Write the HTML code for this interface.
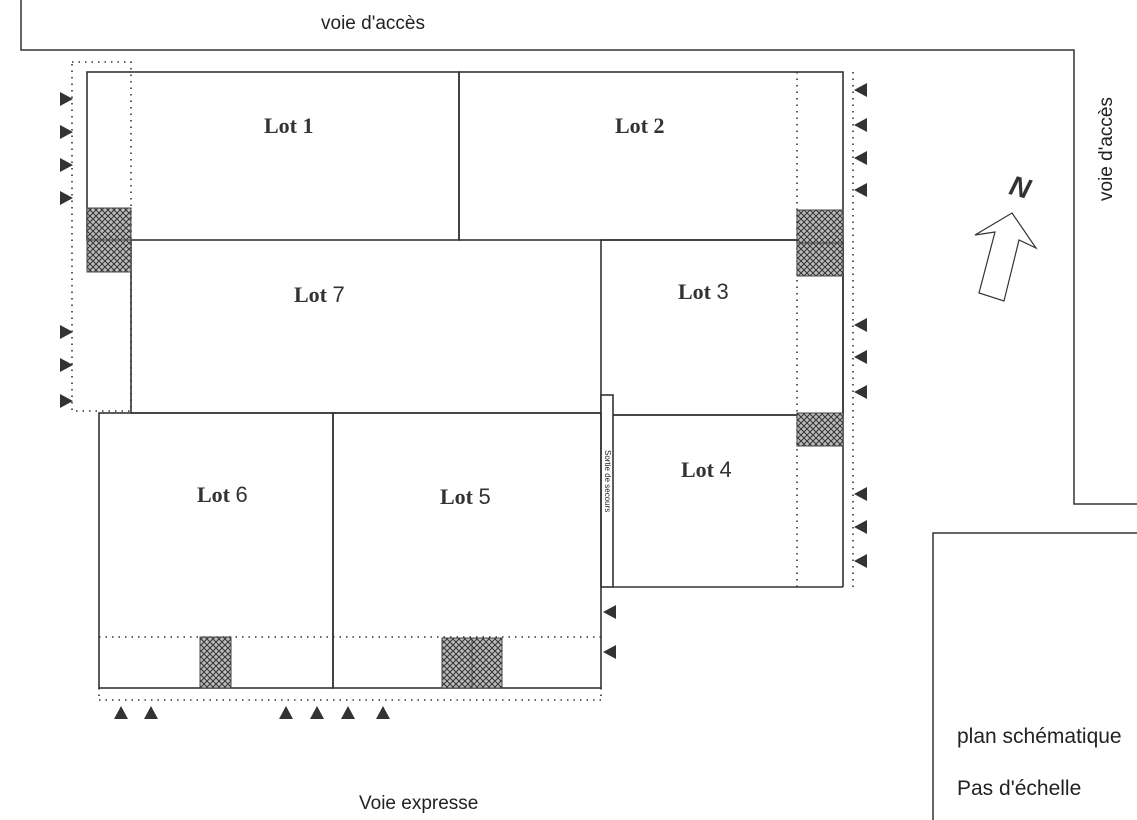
<!DOCTYPE html>
<html><head><meta charset="utf-8"><style>
html,body{margin:0;padding:0;background:#fff;}
svg{display:block;}
.h{font-family:"Liberation Sans",sans-serif;font-size:19px;fill:#222;}
.b{font-family:"Liberation Sans",sans-serif;font-size:21px;fill:#222;}
.s{font-family:"Liberation Serif",serif;font-size:22px;font-weight:bold;fill:#333;}
</style></head><body>
<svg width="1137" height="820" viewBox="0 0 1137 820" xmlns="http://www.w3.org/2000/svg">
<defs>
<pattern id="hx" width="6" height="6" patternUnits="userSpaceOnUse">
<rect width="6" height="6" fill="#bbb"/>
<path d="M0 0L6 6M6 0L0 6" stroke="#333" stroke-width="1"/>
</pattern>
</defs>
<g fill="none" stroke="#333" stroke-width="1.5">
<polyline points="21,0 21,50 1074,50 1074,504 1137,504"/>
<polyline points="933,820 933,533 1137,533"/>
</g>
<g fill="none" stroke="#333" stroke-width="1.6" stroke-dasharray="1.5 5">
<rect x="72" y="62" width="59" height="349"/>
<line x1="797" y1="72" x2="797" y2="587"/>
<line x1="853" y1="72" x2="853" y2="587"/>
<line x1="99" y1="637" x2="601" y2="637"/>
<line x1="99" y1="700" x2="601" y2="700"/>
<line x1="99" y1="688" x2="99" y2="700"/>
<line x1="601" y1="688" x2="601" y2="700"/>
</g>
<g fill="none" stroke="#333" stroke-width="1.6">
<rect x="87" y="72" width="372" height="168"/>
<rect x="459" y="72" width="384" height="168"/>
<line x1="131" y1="240" x2="131" y2="413"/>
<line x1="131" y1="413" x2="601" y2="413"/>
<rect x="601" y="240" width="242" height="175"/>
<line x1="843" y1="240" x2="843" y2="587"/>
<line x1="613" y1="415" x2="843" y2="415"/>
<line x1="613" y1="587" x2="843" y2="587"/>
<rect x="601" y="395" width="12" height="192" fill="#fff"/>
<rect x="99" y="413" width="234" height="275"/>
<rect x="333" y="413" width="268" height="275"/>
</g>
<g fill="url(#hx)" stroke="#444" stroke-width="1">
<rect x="87" y="208" width="44" height="32"/>
<rect x="87" y="240" width="44" height="32"/>
<rect x="797" y="210" width="46" height="33"/>
<rect x="797" y="243" width="46" height="33"/>
<rect x="797" y="413" width="46" height="33"/>
<rect x="200" y="637" width="31" height="51"/>
<rect x="442" y="638" width="30" height="50"/>
<rect x="472" y="638" width="30" height="50"/>
</g>
<g fill="#333">
<path d="M60 92L73 99L60 106Z"/><path d="M60 125L73 132L60 139Z"/><path d="M60 158L73 165L60 172Z"/><path d="M60 191L73 198L60 205Z"/>
<path d="M60 325L73 332L60 339Z"/><path d="M60 358L73 365L60 372Z"/><path d="M60 394L73 401L60 408Z"/>
<path d="M867 83L854 90L867 97Z"/><path d="M867 118L854 125L867 132Z"/><path d="M867 151L854 158L867 165Z"/><path d="M867 183L854 190L867 197Z"/>
<path d="M867 318L854 325L867 332Z"/><path d="M867 350L854 357L867 364Z"/><path d="M867 385L854 392L867 399Z"/>
<path d="M867 487L854 494L867 501Z"/><path d="M867 520L854 527L867 534Z"/><path d="M867 554L854 561L867 568Z"/>
<path d="M616 605L603 612L616 619Z"/><path d="M616 645L603 652L616 659Z"/>
<path d="M114 719L121 706L128 719Z"/><path d="M144 719L151 706L158 719Z"/><path d="M279 719L286 706L293 719Z"/><path d="M310 719L317 706L324 719Z"/><path d="M341 719L348 706L355 719Z"/><path d="M376 719L383 706L390 719Z"/>
</g>
<text class="s" x="264" y="133">Lot 1</text>
<text class="s" x="615" y="133">Lot 2</text>
<text class="s" x="294" y="302">Lot <tspan font-weight="normal" font-family="Liberation Sans">7</tspan></text>
<text class="s" x="678" y="299">Lot <tspan font-weight="normal" font-family="Liberation Sans">3</tspan></text>
<text class="s" x="681" y="477">Lot <tspan font-weight="normal" font-family="Liberation Sans">4</tspan></text>
<text class="s" x="197" y="502">Lot <tspan font-weight="normal" font-family="Liberation Sans">6</tspan></text>
<text class="s" x="440" y="504">Lot <tspan font-weight="normal" font-family="Liberation Sans">5</tspan></text>
<text x="0" y="0" transform="translate(605,450) rotate(90)" font-family="Liberation Sans" font-size="8" fill="#222">Sortie de secours</text>
<text class="h" x="321" y="29">voie d'accès</text>
<text class="h" x="359" y="809">Voie expresse</text>
<text class="b" x="957" y="743">plan schématique</text>
<text class="b" x="957" y="795">Pas d'échelle</text>
<text class="h" transform="translate(1112,201) rotate(-90)">voie d'accès</text>
<text x="1010" y="198" font-family="Liberation Sans" font-size="28" font-weight="bold" font-style="italic" fill="#333" transform="rotate(15 1025 188)">N</text>
<path d="M1012 213L1036 248L1019 240L1004 301L979 293L995 232L975 235Z" fill="#fff" stroke="#333" stroke-width="1.2"/>
</svg>
</body></html>
